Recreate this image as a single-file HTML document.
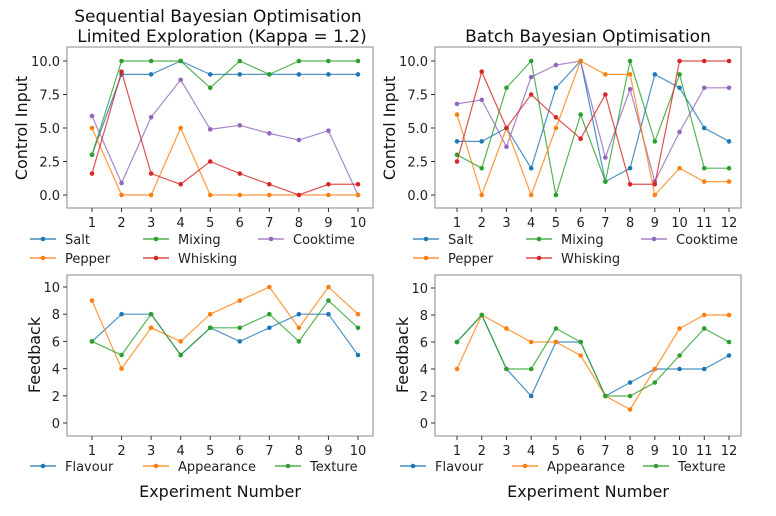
<!DOCTYPE html>
<html><head><meta charset="utf-8"><style>
body{margin:0;background:#fff;}
svg{font-family:"DejaVu Sans","Liberation Sans",sans-serif;}
</style></head><body>
<svg id="c" width="776" height="511"></svg>
<script>
const colors={blue:'#1f77b4',orange:'#ff7f0e',green:'#2ca02c',red:'#d62728',purple:'#9467bd'};
const tlSalt=[3,9,9,10,9,9,9,9,9,9];
const tlMixing=[3,10,10,10,8,10,9,10,10,10];
const tlCooktime=[5.9,0.9,5.8,8.6,4.9,5.2,4.6,4.1,4.8,0];
const tlPepper=[5,0,0,5,0,0,0,0,0,0];
const tlWhisking=[1.6,9.2,1.6,0.8,2.5,1.6,0.8,0,0.8,0.8];
const trSalt=[4,4,5,2,8,10,1,2,9,8,5,4];
const trMixing=[3,2,8,10,0,6,1,10,4,9,2,2];
const trCooktime=[6.8,7.1,3.6,8.8,9.7,10,2.8,7.9,1,4.7,8,8];
const trPepper=[6,0,5,0,5,10,9,9,0,2,1,1];
const trWhisking=[2.5,9.2,5,7.5,5.8,4.2,7.5,0.8,0.8,10,10,10];
const blFlavour=[6,8,8,5,7,6,7,8,8,5];
const blAppearance=[9,4,7,6,8,9,10,7,10,8];
const blTexture=[6,5,8,5,7,7,8,6,9,7];
const brFlavour=[6,8,4,2,6,6,2,3,4,4,4,5];
const brAppearance=[4,8,7,6,6,5,2,1,4,7,8,8];
const brTexture=[6,8,4,4,7,6,2,2,3,5,7,6];
const topTicks=[0,2.5,5,7.5,10];
const topTickLabels=['0.0','2.5','5.0','7.5','10.0'];
const botTicks=[0,2,4,6,8,10];
const botTickLabels=['0','2','4','6','8','10'];

const svg=document.getElementById('c');
const NS='http://www.w3.org/2000/svg';
function mk(tag,attrs,parent){const e=document.createElementNS(NS,tag);for(const k in attrs)e.setAttribute(k,attrs[k]);(parent||svg).appendChild(e);return e;}
function txt(s,attrs,parent){const e=mk('text',attrs,parent);e.textContent=s;return e;}

function panel(name,box,n,x1px,xnpx,y0px,y10px,ticks,tickLabels,series){
  const g=mk('g',{});
  
  
  const xs=i=>x1px+(xnpx-x1px)*(i-1)/(n-1);
  const ys=v=>y0px+(y10px-y0px)*v/10;
  const r=mk('rect',{x:box[0],y:box[1],width:box[2]-box[0],height:box[3]-box[1],fill:'none',stroke:'#888','stroke-width':1},g);
  
  
  ticks.forEach((t,k)=>{
    const y=ys(t);
    mk('line',{x1:box[0]-4,x2:box[0],y1:y,y2:y,stroke:'#333'},g);
    const l=txt(tickLabels[k],{x:box[0]-7,y:y+5,'text-anchor':'end','font-size':13,fill:'#222'},g);
    
    
  });
  for(let i=1;i<=n;i++){
    const x=xs(i);
    mk('line',{x1:x,x2:x,y1:box[3],y2:box[3]+4,stroke:'#333'},g);
    const l=txt(String(i),{x:x,y:box[3]+19,'text-anchor':'middle','font-size':13,fill:'#222'},g);
    
    
  }
  series.forEach(s=>{
    const pts=s.d.map((v,i)=>xs(i+1)+','+ys(v)).join(' ');
    const pl=mk('polyline',{points:pts,fill:'none',stroke:s.c,'stroke-width':1.2,'stroke-opacity':0.8},g);
    
    
    s.d.forEach((v,i)=>{
      const c=mk('circle',{cx:xs(i+1),cy:ys(v),r:2.3,fill:s.c},g);
      
      
    });
  });
}
function legend(name,entries){
  const g=mk('g',{});
  
  
  entries.forEach(e=>{
    const it=mk('g',{},g);
    
    
    mk('line',{x1:e.x,x2:e.x+26,y1:e.y,y2:e.y,stroke:e.c,'stroke-width':1.2},it);
    mk('circle',{cx:e.x+13,cy:e.y,r:2.3,fill:e.c},it);
    txt(e.t,{x:e.x+35,y:e.y+5,'font-size':13,fill:'#222'},it);
  });
}
const C=colors;
panel('top-left-plot',[67,47,373,208],10,92,358,195,61,topTicks,topTickLabels,[
 {n:'salt',c:C.blue,d:tlSalt},{n:'mixing',c:C.green,d:tlMixing},{n:'cooktime',c:C.purple,d:tlCooktime},
 {n:'pepper',c:C.orange,d:tlPepper},{n:'whisking',c:C.red,d:tlWhisking}]);
panel('top-right-plot',[435,47,741,208],12,457,729,195,61,topTicks,topTickLabels,[
 {n:'salt',c:C.blue,d:trSalt},{n:'mixing',c:C.green,d:trMixing},{n:'cooktime',c:C.purple,d:trCooktime},
 {n:'pepper',c:C.orange,d:trPepper},{n:'whisking',c:C.red,d:trWhisking}]);
panel('bottom-left-plot',[67,275,373,436],10,92,358,423,287,botTicks,botTickLabels,[
 {n:'flavour',c:C.blue,d:blFlavour},{n:'appearance',c:C.orange,d:blAppearance},{n:'texture',c:C.green,d:blTexture}]);
panel('bottom-right-plot',[435,275,741,436],12,457,729,423,288,botTicks,botTickLabels,[
 {n:'flavour',c:C.blue,d:brFlavour},{n:'appearance',c:C.orange,d:brAppearance},{n:'texture',c:C.green,d:brTexture}]);

legend('top-left-legend',[{x:30,y:239,c:C.blue,t:'Salt'},{x:143,y:239,c:C.green,t:'Mixing'},{x:258,y:239,c:C.purple,t:'Cooktime'},
 {x:30,y:258,c:C.orange,t:'Pepper'},{x:143,y:258,c:C.red,t:'Whisking'}]);
legend('top-right-legend',[{x:413,y:239,c:C.blue,t:'Salt'},{x:526,y:239,c:C.green,t:'Mixing'},{x:641,y:239,c:C.purple,t:'Cooktime'},
 {x:413,y:258,c:C.orange,t:'Pepper'},{x:526,y:258,c:C.red,t:'Whisking'}]);
legend('bottom-left-legend',[{x:30,y:466,c:C.blue,t:'Flavour'},{x:143,y:466,c:C.orange,t:'Appearance'},{x:275,y:466,c:C.green,t:'Texture'}]);
legend('bottom-right-legend',[{x:400,y:466,c:C.blue,t:'Flavour'},{x:512,y:466,c:C.orange,t:'Appearance'},{x:643,y:466,c:C.green,t:'Texture'}]);

function label(s,a,name){const t=txt(s,a);}
label('Sequential Bayesian Optimisation',{x:218,y:22,'text-anchor':'middle','font-size':17,fill:'#111'},'top-left-title-line1');
label('Limited Exploration (Kappa = 1.2)',{x:222,y:42,'text-anchor':'middle','font-size':17,fill:'#111'},'top-left-title-line2');
label('Batch Bayesian Optimisation',{x:588,y:42,'text-anchor':'middle','font-size':17,fill:'#111'},'top-right-title');
label('Control Input',{x:0,y:0,transform:'translate(27,128) rotate(-90)','text-anchor':'middle','font-size':16,fill:'#111'},'top-left-y-axis-title');
label('Control Input',{x:0,y:0,transform:'translate(395,128) rotate(-90)','text-anchor':'middle','font-size':16,fill:'#111'},'top-right-y-axis-title');
label('Feedback',{x:0,y:0,transform:'translate(40,355) rotate(-90)','text-anchor':'middle','font-size':16,fill:'#111'},'bottom-left-y-axis-title');
label('Feedback',{x:0,y:0,transform:'translate(408,355) rotate(-90)','text-anchor':'middle','font-size':16,fill:'#111'},'bottom-right-y-axis-title');
label('Experiment Number',{x:220,y:497,'text-anchor':'middle','font-size':16,fill:'#111'},'bottom-left-x-axis-title');
label('Experiment Number',{x:588,y:497,'text-anchor':'middle','font-size':16,fill:'#111'},'bottom-right-x-axis-title');
</script>
</body></html>
